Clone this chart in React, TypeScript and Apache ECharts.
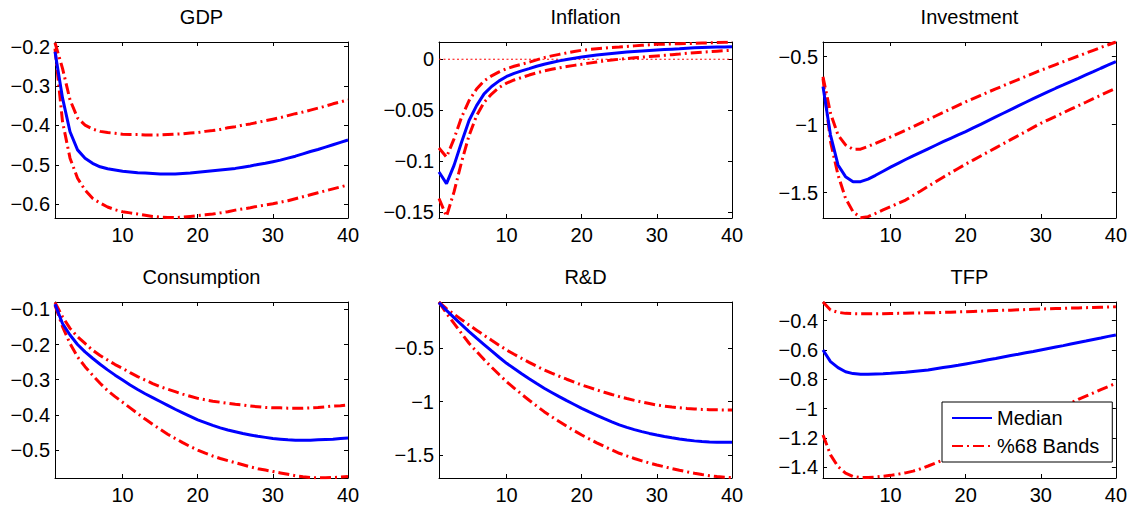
import React, { useEffect, useRef } from "react";
import * as echarts from "echarts";

const horizon = [1,2,3,4,5,6,7,8,9,10,11,12,13,14,15,16,17,18,19,20,21,22,23,24,25,26,27,28,29,30,31,32,33,34,35,36,37,38,39,40];

const titles = ["GDP", "Inflation", "Investment", "Consumption", "R&D", "TFP"];

const gdpMedian = [-0.213,-0.330,-0.416,-0.462,-0.483,-0.496,-0.505,-0.510,-0.513,-0.516,-0.518,-0.520,-0.521,-0.522,-0.523,-0.523,-0.523,-0.522,-0.521,-0.519,-0.517,-0.515,-0.513,-0.511,-0.509,-0.506,-0.503,-0.499,-0.496,-0.492,-0.488,-0.483,-0.478,-0.472,-0.466,-0.461,-0.455,-0.449,-0.443,-0.437];
const gdpUpper = [-0.190,-0.255,-0.335,-0.381,-0.399,-0.409,-0.415,-0.418,-0.420,-0.422,-0.423,-0.423,-0.424,-0.424,-0.424,-0.423,-0.422,-0.421,-0.419,-0.418,-0.415,-0.413,-0.410,-0.406,-0.403,-0.399,-0.396,-0.392,-0.388,-0.384,-0.380,-0.375,-0.370,-0.366,-0.361,-0.356,-0.351,-0.345,-0.340,-0.335];
const gdpLower = [-0.205,-0.390,-0.483,-0.534,-0.564,-0.585,-0.597,-0.607,-0.614,-0.619,-0.622,-0.625,-0.628,-0.631,-0.633,-0.634,-0.634,-0.633,-0.631,-0.629,-0.627,-0.625,-0.622,-0.619,-0.615,-0.612,-0.609,-0.605,-0.602,-0.599,-0.595,-0.591,-0.586,-0.581,-0.576,-0.571,-0.566,-0.561,-0.556,-0.551];

const inflMedian = [-0.1105,-0.1219,-0.104,-0.0813,-0.060,-0.0455,-0.034,-0.0267,-0.0212,-0.0169,-0.0139,-0.0114,-0.0092,-0.0069,-0.0049,-0.0032,-0.0016,-0.0003,0.001,0.0022,0.0032,0.0041,0.0049,0.0057,0.0064,0.007,0.0075,0.008,0.0085,0.009,0.0095,0.0099,0.0103,0.0108,0.0112,0.0115,0.0117,0.0119,0.0121,0.0123];
const inflUpper = [-0.087,-0.0959,-0.078,-0.0569,-0.0406,-0.0292,-0.0212,-0.0163,-0.0124,-0.0092,-0.0069,-0.0049,-0.0029,-0.0006,0.0016,0.0033,0.0048,0.0062,0.0075,0.0088,0.0096,0.0103,0.0109,0.0115,0.012,0.0126,0.0131,0.0136,0.0141,0.0146,0.0148,0.015,0.0152,0.0154,0.0156,0.0158,0.016,0.0163,0.0166,0.0168];
const inflLower = [-0.1365,-0.154,-0.130,-0.1008,-0.0748,-0.0553,-0.0423,-0.0341,-0.0277,-0.0234,-0.0203,-0.0179,-0.0155,-0.0133,-0.0114,-0.0099,-0.0085,-0.0072,-0.006,-0.0049,-0.0038,-0.0027,-0.0017,-0.0008,0.0,0.0007,0.0014,0.002,0.0026,0.0032,0.0038,0.0045,0.0051,0.0058,0.0064,0.0069,0.0074,0.0079,0.0084,0.0088];

const invMedian = [-0.72,-1.076,-1.296,-1.382,-1.419,-1.419,-1.400,-1.372,-1.342,-1.312,-1.284,-1.256,-1.229,-1.203,-1.177,-1.151,-1.125,-1.100,-1.075,-1.051,-1.024,-0.997,-0.970,-0.943,-0.916,-0.889,-0.862,-0.835,-0.808,-0.782,-0.757,-0.732,-0.708,-0.683,-0.659,-0.634,-0.610,-0.585,-0.561,-0.537];
const invUpper = [-0.647,-0.916,-1.076,-1.149,-1.181,-1.180,-1.160,-1.137,-1.114,-1.090,-1.065,-1.040,-1.014,-0.988,-0.962,-0.936,-0.910,-0.884,-0.858,-0.832,-0.808,-0.784,-0.760,-0.737,-0.714,-0.691,-0.668,-0.645,-0.622,-0.600,-0.579,-0.558,-0.537,-0.516,-0.495,-0.474,-0.453,-0.432,-0.412,-0.392];
const invLower = [-0.66,-1.125,-1.37,-1.541,-1.64,-1.684,-1.676,-1.652,-1.627,-1.603,-1.578,-1.554,-1.520,-1.487,-1.453,-1.419,-1.386,-1.354,-1.322,-1.290,-1.260,-1.230,-1.200,-1.170,-1.140,-1.110,-1.080,-1.050,-1.020,-0.990,-0.964,-0.938,-0.912,-0.886,-0.860,-0.835,-0.809,-0.783,-0.757,-0.732];

const consMedian = [-0.085,-0.140,-0.173,-0.200,-0.221,-0.239,-0.256,-0.272,-0.287,-0.301,-0.315,-0.328,-0.340,-0.351,-0.362,-0.373,-0.384,-0.394,-0.404,-0.414,-0.422,-0.430,-0.437,-0.443,-0.448,-0.453,-0.457,-0.461,-0.464,-0.467,-0.469,-0.471,-0.472,-0.472,-0.472,-0.471,-0.470,-0.469,-0.467,-0.466];
const consUpper = [-0.080,-0.121,-0.154,-0.178,-0.197,-0.216,-0.231,-0.244,-0.257,-0.268,-0.280,-0.291,-0.301,-0.311,-0.320,-0.327,-0.334,-0.341,-0.347,-0.353,-0.357,-0.361,-0.364,-0.367,-0.370,-0.372,-0.375,-0.377,-0.379,-0.380,-0.380,-0.381,-0.381,-0.381,-0.380,-0.379,-0.377,-0.375,-0.374,-0.372];
const consLower = [-0.088,-0.149,-0.197,-0.235,-0.263,-0.287,-0.310,-0.331,-0.348,-0.364,-0.380,-0.396,-0.412,-0.427,-0.441,-0.455,-0.467,-0.479,-0.490,-0.500,-0.509,-0.517,-0.524,-0.530,-0.536,-0.542,-0.548,-0.553,-0.557,-0.561,-0.565,-0.569,-0.573,-0.576,-0.578,-0.579,-0.579,-0.578,-0.577,-0.575];

const rdMedian = [-0.072,-0.145,-0.212,-0.278,-0.344,-0.405,-0.465,-0.525,-0.584,-0.641,-0.690,-0.738,-0.785,-0.831,-0.875,-0.914,-0.953,-0.991,-1.027,-1.063,-1.096,-1.128,-1.160,-1.190,-1.218,-1.241,-1.262,-1.281,-1.298,-1.313,-1.327,-1.339,-1.350,-1.360,-1.368,-1.374,-1.378,-1.380,-1.381,-1.382];
const rdUpper = [-0.066,-0.129,-0.180,-0.231,-0.282,-0.330,-0.378,-0.425,-0.471,-0.516,-0.556,-0.595,-0.632,-0.668,-0.703,-0.733,-0.762,-0.790,-0.817,-0.844,-0.867,-0.890,-0.912,-0.933,-0.953,-0.971,-0.988,-1.004,-1.018,-1.032,-1.042,-1.051,-1.058,-1.064,-1.069,-1.073,-1.075,-1.077,-1.078,-1.078];
const rdLower = [-0.070,-0.172,-0.266,-0.360,-0.453,-0.530,-0.605,-0.677,-0.746,-0.813,-0.873,-0.931,-0.987,-1.041,-1.094,-1.141,-1.187,-1.231,-1.273,-1.313,-1.350,-1.386,-1.420,-1.453,-1.484,-1.509,-1.533,-1.555,-1.575,-1.594,-1.611,-1.628,-1.644,-1.658,-1.672,-1.684,-1.694,-1.702,-1.708,-1.713];

const tfpMedian = [-0.600,-0.679,-0.720,-0.748,-0.761,-0.766,-0.766,-0.764,-0.762,-0.759,-0.755,-0.751,-0.746,-0.741,-0.736,-0.728,-0.720,-0.712,-0.704,-0.695,-0.686,-0.677,-0.667,-0.658,-0.648,-0.638,-0.629,-0.619,-0.610,-0.600,-0.590,-0.580,-0.570,-0.559,-0.549,-0.539,-0.528,-0.518,-0.507,-0.497];
const tfpUpper = [-0.273,-0.327,-0.343,-0.350,-0.352,-0.353,-0.353,-0.353,-0.352,-0.351,-0.350,-0.349,-0.348,-0.347,-0.346,-0.345,-0.343,-0.342,-0.340,-0.339,-0.337,-0.335,-0.333,-0.331,-0.329,-0.328,-0.326,-0.324,-0.322,-0.320,-0.319,-0.317,-0.316,-0.314,-0.313,-0.311,-0.310,-0.308,-0.307,-0.305];
const tfpLower = [-1.180,-1.315,-1.395,-1.440,-1.463,-1.470,-1.470,-1.466,-1.461,-1.455,-1.447,-1.438,-1.426,-1.410,-1.391,-1.371,-1.350,-1.328,-1.306,-1.284,-1.261,-1.238,-1.215,-1.192,-1.169,-1.146,-1.123,-1.100,-1.077,-1.054,-1.031,-1.008,-0.985,-0.961,-0.937,-0.915,-0.893,-0.871,-0.849,-0.827];

const medians = [gdpMedian, inflMedian, invMedian, consMedian, rdMedian, tfpMedian];
const uppers = [gdpUpper, inflUpper, invUpper, consUpper, rdUpper, tfpUpper];
const lowers = [gdpLower, inflLower, invLower, consLower, rdLower, tfpLower];

const yMins = [-0.635, -0.1556, -1.686, -0.5795, -1.716, -1.473];
const yMaxs = [-0.188, 0.0169, -0.392, -0.079, -0.066, -0.2725];
const yTicks = [
  [-0.6, -0.5, -0.4, -0.3, -0.2],
  [-0.15, -0.1, -0.05, 0],
  [-1.5, -1, -0.5],
  [-0.5, -0.4, -0.3, -0.2, -0.1],
  [-1.5, -1, -0.5],
  [-1.4, -1.2, -1, -0.8, -0.6, -0.4],
];
const xTicks = [10, 20, 30, 40];
const legendNames = ["Median", "%68 Bands"];
const zeroLineX = [1, 40];
const zeroLineY = [0, 0];

const FONT = "'Liberation Sans', Arial, Helvetica, sans-serif";
const colLefts = [55, 439, 823];
const rowTops = [42, 302];
const GW = 293;
const GH = 176;

function fmt(v: number) {
  const s = String(+Number(v).toFixed(2));
  return s.replace("-", "\u2212");
}

function buildOption() {
  const grid: any[] = [];
  const xAxis: any[] = [];
  const yAxis: any[] = [];
  const series: any[] = [];
  const graphic: any[] = [];
  const axisLine = { show: true, onZero: false, lineStyle: { color: "#000", width: 1 } };
  const tick = (vals: number[]) => ({ show: true, inside: true, length: 4, customValues: vals, lineStyle: { color: "#000", width: 1 } });
  for (let i = 0; i < 6; i++) {
    const left = colLefts[i % 3];
    const top = rowTops[Math.floor(i / 3)];
    grid.push({ left, top, width: GW, height: GH, containLabel: false });
    xAxis.push({
      type: "value", gridIndex: i, min: 1, max: 40, position: "bottom",
      axisLine, axisTick: tick(xTicks), splitLine: { show: false },
      axisLabel: { show: true, customValues: xTicks, margin: 7, fontSize: 20, fontFamily: FONT, color: "#000" },
    });
    xAxis.push({
      type: "value", gridIndex: i, min: 1, max: 40, position: "top",
      axisLine, axisTick: tick(xTicks), splitLine: { show: false },
      axisLabel: { show: false },
    });
    yAxis.push({
      type: "value", gridIndex: i, min: yMins[i], max: yMaxs[i], position: "left",
      axisLine, axisTick: tick(yTicks[i]), splitLine: { show: false },
      axisLabel: { show: true, customValues: yTicks[i], formatter: fmt, margin: 5, fontSize: 20, fontFamily: FONT, color: "#000" },
    });
    yAxis.push({
      type: "value", gridIndex: i, min: yMins[i], max: yMaxs[i], position: "right",
      axisLine, axisTick: tick(yTicks[i]), splitLine: { show: false },
      axisLabel: { show: false },
    });
    const zip = (arr: number[]) => horizon.map((h, k) => [h, arr[k]]);
    if (i === 1) {
      series.push({
        type: "line", name: "zero", xAxisIndex: 2 * i, yAxisIndex: 2 * i, silent: true,
        data: zeroLineX.map((x, k) => [x, zeroLineY[k]]), symbol: "none", showSymbol: false,
        color: "#ff0000", lineStyle: { color: "#ff0000", width: 1, type: [2, 2.5] }, z: 1,
      });
    }
    const band = (arr: number[]) => ({
      type: "line", name: legendNames[1], xAxisIndex: 2 * i, yAxisIndex: 2 * i,
      data: zip(arr), symbol: "none", showSymbol: false, color: "#ff0000",
      lineStyle: { color: "#ff0000", width: 3, type: [11, 4, 2, 4] }, z: 2,
    });
    series.push(band(uppers[i]));
    series.push(band(lowers[i]));
    series.push({
      type: "line", name: legendNames[0], xAxisIndex: 2 * i, yAxisIndex: 2 * i,
      data: zip(medians[i]), symbol: "none", showSymbol: false, color: "#0000ff",
      lineStyle: { color: "#0000ff", width: 3, type: "solid" }, z: 3,
    });
    graphic.push({
      type: "text", x: left + GW / 2, y: top - 25,
      style: { text: titles[i], fontSize: 20, fontFamily: FONT, fill: "#000", textAlign: "center", textVerticalAlign: "middle" },
    });
  }
  return {
    animation: false,
    backgroundColor: "#fff",
    grid, xAxis, yAxis, series, graphic,
    legend: {
      data: legendNames, orient: "vertical", left: 942, top: 402,
      itemWidth: 40, itemHeight: 20, itemGap: 8, padding: [6, 13, 6, 9],
      backgroundColor: "#fff", borderColor: "#000", borderWidth: 1, borderRadius: 0,
      selectedMode: false,
      itemStyle: { opacity: 0 },
      textStyle: { fontSize: 20, fontFamily: FONT, color: "#000" },
    },
  };
}

export default function App() {
  const ref = useRef<HTMLDivElement>(null);
  useEffect(() => {
    if (!ref.current) return;
    const chart = echarts.init(ref.current, null, { renderer: "svg" });
    chart.setOption(buildOption() as any);
    return () => chart.dispose();
  }, []);
  return <div ref={ref} style={{ position: "absolute", left: 0, top: 0, width: 1130, height: 505 }} />;
}
